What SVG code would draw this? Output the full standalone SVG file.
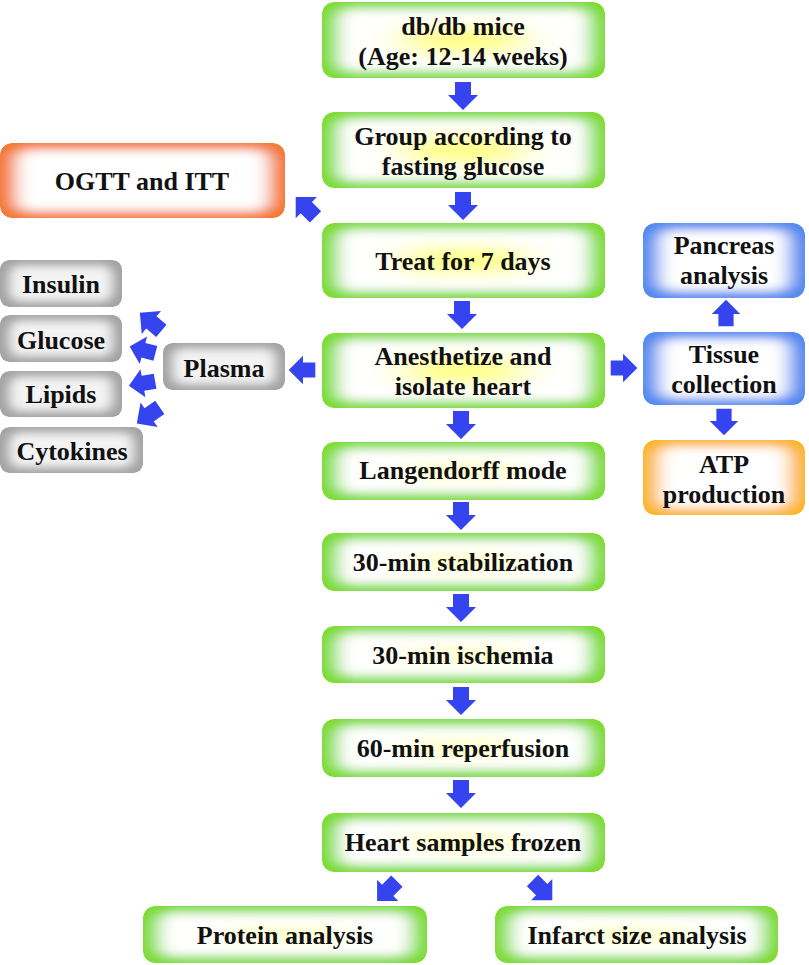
<svg xmlns="http://www.w3.org/2000/svg" width="809" height="965" viewBox="0 0 809 965">
<style>
  text { font-family: "Liberation Serif", "Times New Roman", serif; font-weight: bold; font-size: 26px; fill: #111; text-anchor: middle; }
  .green { fill: #7ddc2e; filter: url(#fGreen); }
  .orange { fill: #f4782e; filter: url(#fWhite); }
  .blue { fill: #5189ef; filter: url(#fWhite); }
  .amber { fill: #fdb526; filter: url(#fWhite); }
  .grey { fill: #a3a3a3; filter: url(#fGrey); }
  .arr { fill: #3544ee; }
</style>
<defs>
  <filter id="fGreen" x="-5%" y="-10%" width="110%" height="120%">
    <feMorphology in="SourceAlpha" operator="erode" radius="16 7" result="e1"/>
    <feGaussianBlur in="e1" stdDeviation="9 5" result="b1"/>
    <feFlood flood-color="#ffffff"/>
    <feComposite in2="b1" operator="in" result="w"/>
    <feMorphology in="SourceAlpha" operator="erode" radius="80 24" result="e2"/>
    <feGaussianBlur in="e2" stdDeviation="22 8" result="b2"/>
    <feFlood flood-color="#ffff55" flood-opacity="0.85"/>
    <feComposite in2="b2" operator="in" result="y"/>
    <feMerge><feMergeNode in="SourceGraphic"/><feMergeNode in="w"/><feMergeNode in="y"/></feMerge>
    <feComposite in2="SourceAlpha" operator="in"/>
  </filter>
  <filter id="fWhite" x="-5%" y="-10%" width="110%" height="120%">
    <feMorphology in="SourceAlpha" operator="erode" radius="16 7" result="e1"/>
    <feGaussianBlur in="e1" stdDeviation="9 5" result="b1"/>
    <feFlood flood-color="#ffffff"/>
    <feComposite in2="b1" operator="in" result="w"/>
    <feMerge><feMergeNode in="SourceGraphic"/><feMergeNode in="w"/></feMerge>
    <feComposite in2="SourceAlpha" operator="in"/>
  </filter>
  <filter id="fGrey" x="-5%" y="-10%" width="110%" height="120%">
    <feMorphology in="SourceAlpha" operator="erode" radius="10 6" result="e1"/>
    <feGaussianBlur in="e1" stdDeviation="6 4" result="b1"/>
    <feFlood flood-color="#f3f3f3"/>
    <feComposite in2="b1" operator="in" result="w"/>
    <feMerge><feMergeNode in="SourceGraphic"/><feMergeNode in="w"/></feMerge>
    <feComposite in2="SourceAlpha" operator="in"/>
  </filter>
  <path id="arrow" class="arr" d="M-8,-14 H8 V-1 H15 L0,14 L-15,-1 H-8 Z"/>
</defs>

<g id="n-dbdb">
  <rect class="green" x="322" y="2" width="283" height="76" rx="12"/>
  <text x="463" y="35">db/db mice</text>
  <text x="463" y="65">(Age: 12-14 weeks)</text>
</g>
<g id="n-group">
  <rect class="green" x="322" y="112" width="283" height="76" rx="12"/>
  <text x="463" y="145">Group according to</text>
  <text x="463" y="175">fasting glucose</text>
</g>
<g id="n-ogtt">
  <rect class="orange" x="0" y="143" width="285" height="75" rx="12"/>
  <text x="142" y="190">OGTT and ITT</text>
</g>
<g id="n-treat">
  <rect class="green" x="322" y="223" width="283" height="75" rx="12"/>
  <text x="463" y="270">Treat for 7 days</text>
</g>
<g id="n-anesth">
  <rect class="green" x="322" y="333" width="283" height="75" rx="12"/>
  <text x="463" y="365">Anesthetize and</text>
  <text x="463" y="395">isolate heart</text>
</g>
<g id="n-plasma">
  <rect class="grey" x="163" y="343" width="122" height="47" rx="9"/>
  <text x="224" y="377">Plasma</text>
</g>
<g id="n-insulin">
  <rect class="grey" x="0" y="260" width="122" height="47" rx="9"/>
  <text x="61" y="293">Insulin</text>
</g>
<g id="n-glucose">
  <rect class="grey" x="0" y="315" width="122" height="47" rx="9"/>
  <text x="61" y="349">Glucose</text>
</g>
<g id="n-lipids">
  <rect class="grey" x="0" y="371" width="122" height="46" rx="9"/>
  <text x="61" y="403">Lipids</text>
</g>
<g id="n-cytokines">
  <rect class="grey" x="0" y="427" width="143" height="46" rx="9"/>
  <text x="72" y="460">Cytokines</text>
</g>
<g id="n-pancreas">
  <rect class="blue" x="643" y="223" width="162" height="75" rx="12"/>
  <text x="724" y="254">Pancreas</text>
  <text x="724" y="284">analysis</text>
</g>
<g id="n-tissue">
  <rect class="blue" x="643" y="332" width="162" height="73" rx="12"/>
  <text x="724" y="363">Tissue</text>
  <text x="724" y="393">collection</text>
</g>
<g id="n-atp">
  <rect class="amber" x="643" y="440" width="162" height="75" rx="12"/>
  <text x="724" y="473">ATP</text>
  <text x="724" y="503">production</text>
</g>
<g id="n-langendorff">
  <rect class="green" x="322" y="442" width="283" height="58" rx="12"/>
  <text x="463" y="479">Langendorff mode</text>
</g>
<g id="n-stab">
  <rect class="green" x="322" y="533" width="283" height="58" rx="12"/>
  <text x="463" y="571">30-min stabilization</text>
</g>
<g id="n-isch">
  <rect class="green" x="322" y="626" width="283" height="57" rx="12"/>
  <text x="463" y="664">30-min ischemia</text>
</g>
<g id="n-reperf">
  <rect class="green" x="322" y="719" width="283" height="58" rx="12"/>
  <text x="463" y="757">60-min reperfusion</text>
</g>
<g id="n-frozen">
  <rect class="green" x="322" y="813" width="283" height="59" rx="12"/>
  <text x="463" y="851">Heart samples frozen</text>
</g>
<g id="n-protein">
  <rect class="green" x="143" y="906" width="284" height="57" rx="12"/>
  <text x="285" y="944">Protein analysis</text>
</g>
<g id="n-infarct">
  <rect class="green" x="495" y="906" width="283" height="57" rx="12"/>
  <text x="637" y="944">Infarct size analysis</text>
</g>

<g id="connectors">
  <use href="#arrow" transform="translate(463,96)"/>
  <use href="#arrow" transform="translate(463,206)"/>
  <use href="#arrow" transform="translate(462,315)"/>
  <use href="#arrow" transform="translate(461,425)"/>
  <use href="#arrow" transform="translate(461,516)"/>
  <use href="#arrow" transform="translate(461,608)"/>
  <use href="#arrow" transform="translate(461,701)"/>
  <use href="#arrow" transform="translate(461,794)"/>
  <use href="#arrow" transform="translate(305.6,207) rotate(135)"/>
  <use href="#arrow" transform="translate(302,370) rotate(90) scale(0.95)"/>
  <use href="#arrow" transform="translate(150.6,321.8) rotate(130)"/>
  <use href="#arrow" transform="translate(142.5,350) rotate(105) scale(0.95)"/>
  <use href="#arrow" transform="translate(142,383.5) rotate(80) scale(0.95)"/>
  <use href="#arrow" transform="translate(148.3,415.4) rotate(55)"/>
  <use href="#arrow" transform="translate(624,368) rotate(-90) scale(0.95)"/>
  <use href="#arrow" transform="translate(726,313) rotate(180) scale(0.95)"/>
  <use href="#arrow" transform="translate(724,422) scale(0.95)"/>
  <use href="#arrow" transform="translate(387,891) rotate(45)"/>
  <use href="#arrow" transform="translate(542.4,890.4) rotate(-45)"/>
</g>
</svg>
